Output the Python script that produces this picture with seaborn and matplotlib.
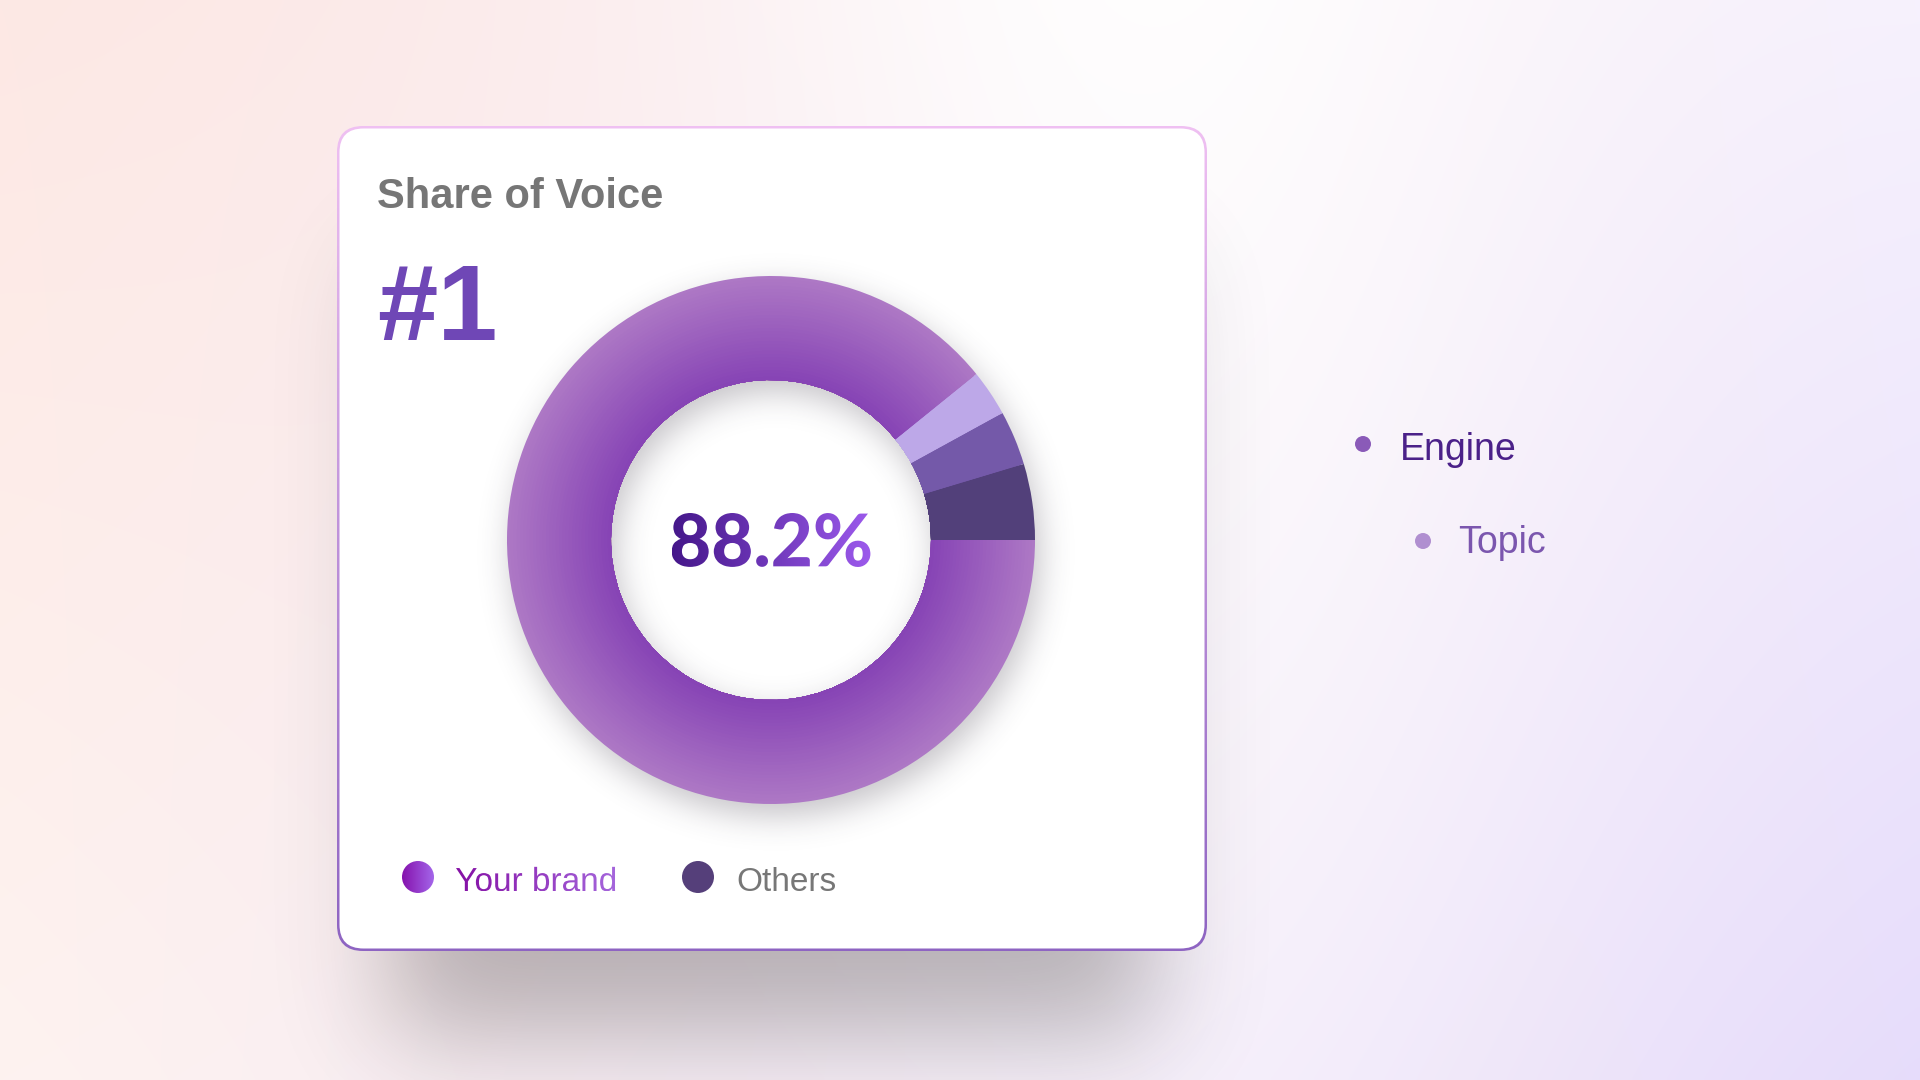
import numpy as np
import seaborn as sns
import matplotlib.pyplot as plt
from matplotlib.patches import FancyBboxPatch, PathPatch, Circle
from matplotlib.textpath import TextPath
from matplotlib.font_manager import FontProperties
from matplotlib.colors import LinearSegmentedColormap, to_rgb
from matplotlib.transforms import Affine2D

# Data
segments = ["Competitor A", "Competitor B", "Competitor C", "Your brand"]
shares = [4.6, 3.3, 2.8, 88.2]
brand_share = 88.2
rank_label = "#1"
card_title = "Share of Voice"
legend_labels = ["Your brand", "Others"]
filter_labels = ["Engine", "Topic"]

# Colours
others_colors = ["#52407a", "#7459a9", "#bda8e8"]
brand_inner, brand_outer = "#8744b5", "#ad78c5"

sns.set_style("white")
plt.rcParams["font.family"] = ["Liberation Sans", "DejaVu Sans"]

W, H = 1920, 1080
fig = plt.figure(figsize=(19.2, 10.8), dpi=100)
ax = fig.add_axes([0, 0, 1, 1])


def blur(a, sigma):
    r = int(3 * sigma)
    t = np.arange(-r, r + 1)
    k = np.exp(-t ** 2 / (2 * sigma ** 2))
    k /= k.sum()
    a = np.apply_along_axis(np.convolve, 0, a, k, mode="same")
    a = np.apply_along_axis(np.convolve, 1, a, k, mode="same")
    return a


def gradient_fill(patch, c0, c1, extent, z, vertical=False):
    ax.add_patch(patch)
    cmap = LinearSegmentedColormap.from_list("g", [c0, c1])
    g = np.linspace(0, 1, 256)
    arr = g[:, None] if vertical else g[None, :]
    im = ax.imshow(arr, cmap=cmap, extent=extent, aspect="auto", zorder=z,
                   interpolation="bilinear", origin="upper")
    im.set_clip_path(patch)


def grad_text(s, x, y, height, c0, c1, family, weight, ha="left", center_y=False, z=10):
    tp = TextPath((0, 0), s, size=100, prop=FontProperties(family=family, weight=weight))
    bb = tp.get_extents()
    sc = height / bb.height
    path = Affine2D().scale(sc).transform_path(tp)
    bb = path.get_extents()
    dx = x - bb.x0 if ha == "left" else x - (bb.x0 + bb.x1) / 2
    dy = y - (bb.y0 + bb.y1) / 2 if center_y else y
    path = Affine2D().translate(dx, dy).transform_path(path)
    patch = PathPatch(path, facecolor="none", edgecolor="none", transform=ax.transData)
    e = path.get_extents()
    gradient_fill(patch, c0, c1, (e.x0, e.x1, e.y0, e.y1), z)


# background gradient
gy, gx = np.mgrid[0:270, 0:480]
u = (gx + 0.5) / 480
v = (gy + 0.5) / 270
tl, tr = np.array(to_rgb("#fde8e4")), np.array(to_rgb("#f6f1fd"))
bl, br = np.array(to_rgb("#fef3f0")), np.array(to_rgb("#e6dcfb"))
bg = ((1 - u) * (1 - v))[..., None] * tl + (u * (1 - v))[..., None] * tr \
    + ((1 - u) * v)[..., None] * bl + (u * v)[..., None] * br
w = (np.exp(-((u - 0.6) / 0.22) ** 2) * (1 - 0.55 * v) * 0.9)[..., None]
bg = bg * (1 - w) + w
ax.imshow(bg, extent=(0, W, 0, H), origin="upper", interpolation="bicubic", zorder=0)

# shadows (half resolution, screen coords)
sy, sx = np.mgrid[0:540, 0:960]
xs = (sx + 0.5) * 2
ys = (sy + 0.5) * 2
card_mask = ((xs > 390) & (xs < 1154) & (ys > 260) & (ys < 1035)).astype(float)
card_sh = blur(card_mask, 26) * 0.33
sh_img = np.zeros((540, 960, 4))
sh_img[..., :3] = (0.22, 0.2, 0.2)
sh_img[..., 3] = card_sh
ax.imshow(sh_img, extent=(0, W, 0, H), origin="upper", interpolation="bilinear", zorder=1)

# card with gradient border
cx0, cx1, cy_top, cy_bot = 337, 1207, 126, 951
border = FancyBboxPatch((cx0, H - cy_bot), cx1 - cx0, cy_bot - cy_top,
                        boxstyle="round,pad=0,rounding_size=26",
                        facecolor="none", edgecolor="none", transform=ax.transData)
gradient_fill(border, "#efc0f2", "#8e64c2", (cx0, cx1, H - cy_bot, H - cy_top), 2, vertical=True)
card = FancyBboxPatch((cx0 + 2.5, H - cy_bot + 2.5), cx1 - cx0 - 5, cy_bot - cy_top - 5,
                      boxstyle="round,pad=0,rounding_size=24",
                      facecolor="white", edgecolor="none", zorder=3)
ax.add_patch(card)

# donut
dcx, dcy = 771, 540
r_out, r_in = 264, 160
d = np.hypot(xs - dcx - 5, ys - dcy - 12)
ring_mask = ((d < r_out) & (d > r_in)).astype(float)
ring_sh = blur(ring_mask, 8) * 0.30
rs_img = np.zeros((540, 960, 4))
rs_img[..., :3] = (0.25, 0.22, 0.28)
rs_img[..., 3] = ring_sh
rs = ax.imshow(rs_img, extent=(0, W, 0, H), origin="upper", interpolation="bilinear", zorder=4)
rs.set_clip_path(card)

n_rings = 32
ring_cols = sns.blend_palette([brand_inner, brand_outer], n_rings)
for k in range(n_rings - 1, -1, -1):
    rad = r_in + (k + 1) * (r_out - r_in) / n_rings
    wedges, _ = ax.pie(shares, colors=others_colors + [ring_cols[k]], radius=rad,
                       center=(dcx, H - dcy), startangle=0, counterclock=True,
                       wedgeprops=dict(width=rad - r_in, linewidth=0))
    for wd in wedges:
        wd.set_zorder(5)

grad_text(f"{brand_share}%", dcx, H - dcy, 54, "#45178a", "#9c5aec",
          ["Lato", "DejaVu Sans"], 900, ha="center", center_y=True)

# title and rank
ax.text(377, H - 208, card_title, fontsize=30, fontweight="bold", color="#767676",
        ha="left", va="baseline", zorder=10)
ax.text(377, H - 340, rank_label, fontsize=78, fontweight="bold", color="#6f47b6",
        ha="left", va="baseline", zorder=10)

# legend
dot = Circle((418, H - 877), 16, facecolor="none", edgecolor="none", transform=ax.transData)
gradient_fill(dot, "#8512ad", "#a466ea", (402, 434, H - 893, H - 861), 10)
grad_text(legend_labels[0], 456, H - 891, 24.5, "#8510a5", "#a566dc",
          ["Liberation Sans", "DejaVu Sans"], "normal")
ax.add_patch(Circle((698, H - 877), 16, facecolor="#553f7a", edgecolor="none", zorder=10))
ax.text(736, H - 891, legend_labels[1], fontsize=24, color="#777777",
        ha="left", va="baseline", zorder=10)

# filters on the right
filter_dot_cols = ["#8a5ab8", "#b08fd0"]
filter_text_cols = ["#4b2189", "#7b56ae"]
filter_pos = [(1363, 444, 1400, 460), (1423, 541, 1458, 553)]
for lab, dc, tc, (px, py, tx, ty) in zip(filter_labels, filter_dot_cols, filter_text_cols, filter_pos):
    ax.add_patch(Circle((px, H - py), 8, facecolor=dc, edgecolor="none", zorder=10))
    ax.text(tx, H - ty, lab, fontsize=27, color=tc, ha="left", va="baseline", zorder=10)

ax.set_xlim(0, W)
ax.set_ylim(0, H)
ax.set_aspect("auto")
ax.axis("off")
fig.savefig("out.png", dpi=100)
